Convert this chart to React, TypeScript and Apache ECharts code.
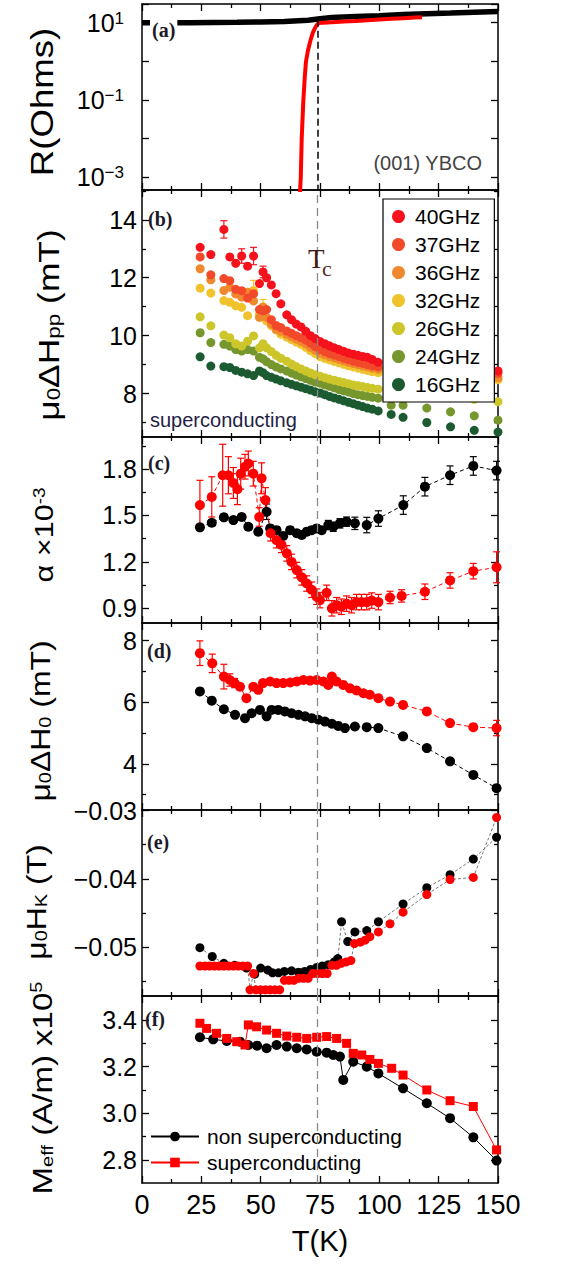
import React, { useEffect, useRef } from 'react';
import * as echarts from 'echarts';

const FONT = "'Liberation Sans', Arial, Helvetica, sans-serif";
const SERIF = "'Liberation Serif', 'Times New Roman', serif";

const W = 572;
const H = 1267;
const PLOT_LEFT = 142;
const PLOT_WIDTH = 356;
const PANELS = [
  { top: 4, height: 186 },
  { top: 190, height: 247 },
  { top: 437, height: 186 },
  { top: 623, height: 187 },
  { top: 810, height: 186 },
  { top: 996, height: 187 },
];

const TC = 74;
const T_MIN = 0;
const T_MAX = 150;
const T_TICKS_STEP = 25;

// ---------- (a) resistance ----------
const A_MIN = 4.6e-4;
const A_MAX = 30.5;
const T_A_N = [0, 10, 20, 30, 40, 50, 60, 70, 75, 80, 90, 100, 110, 120, 130, 140, 150];
const R_A_N = [10, 10, 10, 10.1, 10.2, 10.4, 10.8, 11.6, 12.6, 13.6, 14.4, 15.2, 16.2, 17.0, 17.8, 18.7, 19.6];
const T_A_SC = [66.5, 66.9, 67.3, 68.0, 68.6, 69.1, 70.0, 71.0, 72.0, 73.0, 73.8, 74.5, 76, 80, 85, 90, 95, 100, 105, 110, 115, 118];
const R_A_SC = [3e-4, 1e-3, 1e-2, 0.1, 0.4, 1.0, 2.0, 3.5, 5.5, 7.5, 9.0, 9.8, 10.0, 10.3, 10.7, 11.1, 11.6, 12.1, 12.6, 13.1, 13.6, 13.9];

// ---------- (b) linewidth vs frequency ----------
const FREQS = ['40GHz', '37GHz', '36GHz', '32GHz', '26GHz', '24GHz', '16GHz'];
const FREQ_COLORS = ['#f5121d', '#f2492b', '#f0882d', '#f0c22b', '#cdc62a', '#76962e', '#1c5a31'];
const T_B = [24.5, 29, 34.5, 37, 39.5, 42, 44.5, 47, 49.5, 51, 52.5, 54.5, 56.5, 58.5, 61, 63, 65, 67, 69, 71, 73, 75, 77, 79, 81, 83, 85, 87, 89, 91, 93, 95, 97, 99.5, 105, 110, 120, 130, 140, 150];
const B_40 = [13.05, 12.8, 13.67, 12.72, 12.5, 12.75, 12.4, 12.75, 11.8, 12.2,
  12.0, 11.75, 11.45, 11.1, 10.72, 10.55, 10.4, 10.3, 10.15, 10.0,
  9.9, 9.8, 9.72, 9.65, 9.58, 9.52, 9.46, 9.4, 9.36, 9.32,
  9.28, 9.25, 9.18, 9.08, 9.0, 8.95, 8.9, 8.85, 8.8, 8.78];
const B_37 = [12.72, 12.1, 11.97, 11.9, 11.6, 11.55, 11.3, 11.45, 10.9, 10.86,
  10.9, 10.55, 10.35, 10.28, 10.16, 10.08, 10.0, 9.93, 9.85, 9.74,
  9.62, 9.52, 9.45, 9.38, 9.33, 9.28, 9.22, 9.17, 9.12, 9.08,
  9.04, 9.0, 8.96, 8.92, 8.85, 8.8, 8.75, 8.72, 8.7, 8.7];
const B_36 = [12.31, 11.93, 11.56, 11.67, 11.44, 11.33, 11.5, 11.2, 10.63, 10.98,
  10.63, 10.4, 10.22, 10.15, 10.05, 9.96, 9.88, 9.8, 9.72, 9.6,
  9.5, 9.4, 9.34, 9.28, 9.23, 9.18, 9.13, 9.08, 9.04, 9.0,
  8.96, 8.92, 8.88, 8.84, 8.78, 8.72, 8.66, 8.62, 8.58, 8.55];
const B_32 = [11.64, 11.47, 11.21, 11.15, 11.03, 10.98, 10.69, 11.56, 10.74, 11.0,
  10.51, 10.35, 10.2, 10.05, 9.95, 9.86, 9.78, 9.7, 9.6, 9.48,
  9.38, 9.28, 9.22, 9.16, 9.11, 9.06, 9.01, 8.96, 8.92, 8.88,
  8.84, 8.8, 8.76, 8.72, 8.66, 8.62, 8.58, 8.55, 8.52, 8.48];
const B_26 = [10.65, 10.34, 10.02, 9.93, 9.72, 9.64, 9.81, 9.99, 9.58, 9.72,
  9.58, 9.45, 9.32, 9.22, 9.12, 9.02, 8.93, 8.85, 8.78, 8.71,
  8.65, 8.6, 8.55, 8.5, 8.46, 8.42, 8.38, 8.34, 8.3, 8.27,
  8.24, 8.21, 8.18, 8.15, 8.0, 7.95, 7.9, 7.85, 7.8, 7.72];
const B_24 = [10.1, 9.76, 9.7, 9.64, 9.52, 9.47, 9.52, 9.47, 9.25, 9.2,
  9.1, 9.0, 8.92, 8.85, 8.78, 8.71, 8.64, 8.58, 8.52, 8.46,
  8.4, 8.36, 8.3, 8.25, 8.2, 8.14, 8.09, 8.05, 8.0, 7.96,
  7.93, 7.9, 7.87, 7.84, 7.6, 7.6, 7.5, 7.37, 7.23, 7.08];
const B_16 = [9.27, 8.95, 8.93, 8.9, 8.8, 8.74, 8.68, 8.62, 8.78, 8.72,
  8.62, 8.56, 8.5, 8.44, 8.37, 8.32, 8.27, 8.22, 8.17, 8.12,
  8.06, 8.02, 7.96, 7.9, 7.85, 7.8, 7.75, 7.7, 7.65, 7.6,
  7.55, 7.5, 7.46, 7.4, 7.28, 7.18, 7.0, 6.85, 6.73, 6.67];
const B_ERR_40 = [0, 0, 0.3, 0, 0, 0.25, 0, 0.3, 0, 0.2, 0, 0, 0, 0, 0, 0, 0, 0, 0, 0,
  0, 0, 0, 0, 0, 0, 0, 0, 0, 0, 0, 0, 0, 0, 0, 0, 0, 0, 0, 0];
const B_ERR_32 = [0, 0, 0, 0, 0, 0, 0, 0.35, 0, 0.25, 0, 0, 0, 0, 0, 0, 0, 0, 0, 0,
  0, 0, 0, 0, 0, 0, 0, 0, 0, 0, 0, 0, 0, 0, 0, 0, 0, 0, 0, 0];

// ---------- (c) damping ----------
const T_C_SC = [24.4, 29.4, 34, 36.4, 38.5, 40.2, 41.6, 43.4, 44.8, 46.9, 49.4, 50.4, 52, 54.2, 56.7, 58.8, 61, 63, 65.2, 67.3,
  69.4, 71.5, 73.6, 75, 77.8, 80, 82, 84, 86.2, 88.3, 90.4, 92.5, 94.7, 96.8, 99.6, 104.5, 109.4, 119.2, 129.8, 139.6, 149.4];
const ALPHA_SC = [1.567, 1.62, 1.76, 1.76, 1.71, 1.67, 1.77, 1.815, 1.836, 1.77, 1.49, 1.74, 1.6, 1.385, 1.34, 1.31, 1.255, 1.2, 1.147, 1.1,
  1.06, 1.02, 0.975, 0.953, 1.0, 0.9, 0.92, 0.91, 0.93, 0.92, 0.94, 0.94, 0.94, 0.95, 0.94, 0.97, 0.98, 1.007, 1.08, 1.14, 1.165];
const ERR_C_SC = [0.16, 0.13, 0.2, 0.12, 0.1, 0.1, 0.1, 0.08, 0.08, 0.08, 0.06, 0.1, 0.08, 0.05, 0.05, 0.05, 0.05, 0.05, 0.05, 0.05,
  0.05, 0.05, 0.05, 0.05, 0.05, 0.05, 0.05, 0.05, 0.05, 0.05, 0.05, 0.05, 0.05, 0.05, 0.05, 0.04, 0.04, 0.05, 0.05, 0.05, 0.1];
const T_C_N = [24.4, 29.4, 34.5, 38.5, 42, 44.8, 49, 52.5, 54, 56.7, 59.5, 62.4, 65.2, 67.3, 69.4, 71.5, 73.6, 75.7, 78.5, 80.6,
  83.4, 86.2, 89.7, 94.7, 99.6, 110.1, 119.2, 129.8, 139.6, 149.4];
const ALPHA_N = [1.423, 1.453, 1.488, 1.47, 1.49, 1.427, 1.395, 1.524, 1.416, 1.405, 1.367, 1.405, 1.385, 1.374, 1.395, 1.405, 1.416, 1.405, 1.438, 1.427,
  1.449, 1.46, 1.449, 1.438, 1.48, 1.567, 1.686, 1.76, 1.82, 1.79];
const ERR_C_N = [0.02, 0.02, 0.02, 0.02, 0.02, 0.02, 0.02, 0.05, 0.02, 0.02, 0.02, 0.02, 0.02, 0.02, 0.02, 0.02, 0.02, 0.02, 0.03, 0.03,
  0.03, 0.03, 0.04, 0.05, 0.05, 0.06, 0.06, 0.06, 0.06, 0.06];

// ---------- (d) inhomogeneous broadening ----------
const T_D_SC = [24.4, 29.6, 34.5, 37, 39, 41.3, 44, 46.9, 49, 51, 54, 56.7, 59.5, 62.4, 65.2, 68, 70.8, 73.6, 76.4, 78.5,
  80, 82, 84.8, 87.6, 90.4, 93.3, 96, 99.6, 104.5, 110, 120, 129.8, 139.6, 149.4];
const DH0_SC = [7.59, 7.26, 6.83, 6.72, 6.62, 6.5, 6.13, 6.5, 6.4, 6.62, 6.67, 6.62, 6.62, 6.64, 6.67, 6.72, 6.7, 6.72, 6.67, 6.56,
  6.83, 6.67, 6.56, 6.45, 6.38, 6.29, 6.24, 6.13, 6.02, 5.91, 5.7, 5.32, 5.19, 5.16];
const ERR_D_SC = [0.4, 0.3, 0.4, 0.2, 0.15, 0.1, 0.1, 0.1, 0.1, 0.1, 0.08, 0.08, 0.08, 0.08, 0.08, 0.08, 0.08, 0.08, 0.08, 0.08,
  0.08, 0.08, 0.08, 0.08, 0.08, 0.08, 0.08, 0.08, 0.08, 0.08, 0.08, 0.08, 0.08, 0.25];
const T_D_N = [24.4, 29.4, 34.5, 39.2, 43.4, 46.2, 49.7, 52.5, 54.6, 57.4, 60.2, 63, 65.9, 68.7, 71.5, 74.3, 77.1, 80, 82.7, 85.5,
  89.7, 94.7, 99.6, 110, 120, 129.8, 139.6, 149.4];
const DH0_N = [6.35, 6.05, 5.77, 5.59, 5.48, 5.64, 5.75, 5.54, 5.75, 5.75, 5.7, 5.64, 5.59, 5.54, 5.48, 5.43, 5.37, 5.3, 5.23, 5.16,
  5.21, 5.19, 5.16, 4.89, 4.51, 4.08, 3.64, 3.21];

// ---------- (e) anisotropy field ----------
const T_E_N = [24.4, 29.6, 34.5, 39, 44, 47.5, 50, 53, 55, 57.5, 60, 63, 66, 68.5, 71, 73.6, 76, 78.5, 81, 82.5,
  84.1, 86.7, 89.7, 94.7, 99.6, 110, 120, 129.8, 139.6, 149.4];
const HK_N = [-0.0501, -0.0514, -0.0524, -0.0527, -0.0531, -0.054, -0.0531, -0.0534, -0.0538, -0.0538, -0.0536, -0.0535, -0.0537, -0.0536, -0.0533, -0.053, -0.0528, -0.0526, -0.0522, -0.0517,
  -0.0463, -0.0492, -0.0478, -0.0476, -0.0463, -0.0437, -0.0413, -0.0394, -0.0371, -0.0339];
const T_E_SC = [24.4, 26.5, 28.5, 30.5, 32.5, 34.5, 36.5, 38.5, 40.5, 42.5, 44.5, 45.5, 47, 48, 50, 52, 54, 56, 58, 60,
  62, 64, 66, 68, 70, 72, 74, 76, 78, 80, 82, 84, 86, 88, 89.5, 92, 94, 96, 99.6, 104.5, 110, 120, 129.8, 139.6, 149.4];
const HK_SC = [-0.0528, -0.0528, -0.0528, -0.0528, -0.0528, -0.0528, -0.0528, -0.0528, -0.0528, -0.0528,
  -0.0528, -0.0563, -0.0539, -0.0563, -0.0563, -0.0563, -0.0563, -0.0563, -0.0563, -0.0549,
  -0.0549, -0.0549, -0.0546, -0.0546, -0.0546, -0.0539, -0.0539, -0.0539, -0.0539, -0.0527,
  -0.0527, -0.0524, -0.0522, -0.052, -0.0495, -0.0493, -0.049, -0.0485, -0.0478, -0.0466,
  -0.0449, -0.0423, -0.0401, -0.0398, -0.031];

// ---------- (f) effective magnetization ----------
const T_F_N = [24.4, 30, 35.7, 41.3, 44.8, 48.5, 52.5, 56.7, 61, 65.2, 69.4, 73.6, 77.8, 80.6, 83.4, 84.8, 89, 94.7, 99.6, 110,
  120, 129.8, 139.6, 149.4];
const M_N = [3.326, 3.317, 3.31, 3.307, 3.293, 3.29, 3.279, 3.293, 3.286, 3.279, 3.274, 3.264, 3.26, 3.25, 3.243, 3.143, 3.221, 3.2, 3.171, 3.107,
  3.043, 2.979, 2.897, 2.797];
const T_F_SC = [24.4, 27.2, 31.4, 35.7, 39.9, 43.4, 44.8, 48.3, 52.5, 56.7, 61, 65.2, 69.4, 73.6, 77.8, 82, 86.2, 89, 92.6, 96,
  99.6, 105.2, 110, 120, 129.8, 139.6, 149.4];
const M_SC = [3.386, 3.364, 3.343, 3.321, 3.307, 3.293, 3.379, 3.371, 3.357, 3.343, 3.331, 3.326, 3.321, 3.326, 3.329, 3.321, 3.3, 3.257, 3.25, 3.231,
  3.214, 3.193, 3.164, 3.1, 3.054, 3.029, 2.843];

// ---------- axis configuration (panels b-f) ----------
const Y_CFG: any[] = [
  null,
  { min: 6.5, max: 15.03, major: [8, 10, 12, 14], minor: [7, 9, 11, 13, 15], dec: 0 },
  { min: 0.805, max: 2.007, major: [0.9, 1.2, 1.5, 1.8], minor: [1.05, 1.35, 1.65, 1.95], dec: 1 },
  { min: 2.5, max: 8.57, major: [4, 6, 8], minor: [3, 5, 7], dec: 0 },
  { min: -0.0572, max: -0.0299, major: [-0.05, -0.04, -0.03], minor: [-0.055, -0.045, -0.035], dec: 2 },
  { min: 2.701, max: 3.503, major: [2.8, 3.0, 3.2, 3.4], minor: [2.9, 3.1, 3.3], dec: 1 },
];

const LEGEND_F = ['non superconducting', 'superconducting'];

const zip = (xs: number[], ys: number[]) => xs.map((x, i) => [x, ys[i]]);
const errData = (xs: number[], ys: number[], es: number[]) =>
  xs.map((x, i) => [x, ys[i] - es[i], ys[i] + es[i]]).filter((_, i) => es[i] > 0);

const AXIS_LINE = { show: true, onZero: false, lineStyle: { color: '#000', width: 1.5 } };
const TICK_STYLE = { color: '#000', width: 1.3 };

function errorSeries(gi: number, data: number[][], color: string) {
  return {
    type: 'custom',
    xAxisIndex: 2 * gi,
    yAxisIndex: 4 * gi,
    silent: true,
    data,
    encode: { x: 0, y: [1, 2] },
    renderItem: (params: any, api: any) => {
      const x = api.value(0);
      const lo = api.coord([x, api.value(1)]);
      const hi = api.coord([x, api.value(2)]);
      const w = 3.5;
      const style = { stroke: color, lineWidth: 1.2 };
      return {
        type: 'group',
        children: [
          { type: 'line', shape: { x1: lo[0], y1: lo[1], x2: hi[0], y2: hi[1] }, style },
          { type: 'line', shape: { x1: hi[0] - w, y1: hi[1], x2: hi[0] + w, y2: hi[1] }, style },
          { type: 'line', shape: { x1: lo[0] - w, y1: lo[1], x2: lo[0] + w, y2: lo[1] }, style },
        ],
      };
    },
  };
}

const tcMark = {
  silent: true,
  symbol: ['none', 'none'],
  label: { show: false },
  lineStyle: { color: '#8a8a8a', width: 1.3, type: [8, 5] },
  data: [{ xAxis: TC }],
};

function buildOption() {
  const grids = PANELS.map((p) => ({
    left: PLOT_LEFT, width: PLOT_WIDTH, top: p.top, height: p.height,
    show: false, containLabel: false, outerBoundsMode: 'none',
  }));

  const xAxes: any[] = [];
  const yAxes: any[] = [];
  PANELS.forEach((_, gi) => {
    const baseX = {
      gridIndex: gi, type: 'value', min: T_MIN, max: T_MAX, interval: T_TICKS_STEP,
      splitLine: { show: false }, axisLine: AXIS_LINE,
      axisTick: { show: true, inside: true, length: 7, lineStyle: TICK_STYLE },
      minorTick: { show: true, splitNumber: 2, length: 4, lineStyle: TICK_STYLE },
      minorSplitLine: { show: false },
    };
    const last = gi === PANELS.length - 1;
    xAxes.push({
      ...baseX, position: 'bottom',
      axisLabel: { show: last, fontSize: 27, fontFamily: FONT, color: '#000', margin: 8 },
      name: last ? 'T(K)' : '', nameLocation: 'middle', nameGap: 43,
      nameTextStyle: { fontSize: 29, fontFamily: FONT, color: '#000' },
    });
    xAxes.push({ ...baseX, position: 'top', axisLabel: { show: false } });

    if (gi === 0) {
      const baseLog = {
        gridIndex: 0, type: 'log', logBase: 10, min: A_MIN, max: A_MAX,
        splitLine: { show: false }, axisLine: AXIS_LINE,
        axisTick: { show: true, inside: true, length: 7, lineStyle: TICK_STYLE },
      };
      yAxes.push({
        ...baseLog, position: 'left',
        axisLabel: {
          show: true, margin: 18,
          formatter: (v: number) => {
            const e = Math.log10(v);
            const n = Math.round(e);
            if (Math.abs(e - n) > 1e-6 || n % 2 === 0) return '';
            return `{b|10}{s|${n < 0 ? '−' : ''}${Math.abs(n)}}`;
          },
          rich: {
            b: { fontSize: 25, fontFamily: FONT, color: '#000' },
            s: { fontSize: 17, fontFamily: FONT, color: '#000', verticalAlign: 'top', lineHeight: 14 },
          },
        },
      });
      yAxes.push({ ...baseLog, position: 'left', axisLine: { show: false }, axisTick: { show: false }, axisLabel: { show: false } });
      yAxes.push({ ...baseLog, position: 'right', axisLabel: { show: false } });
      yAxes.push({ ...baseLog, position: 'right', axisLine: { show: false }, axisTick: { show: false }, axisLabel: { show: false } });
      return;
    }
    const c = Y_CFG[gi];
    const baseY = { gridIndex: gi, type: 'value', min: c.min, max: c.max, splitLine: { show: false } };
    const majorTick = { show: true, inside: true, length: 7, customValues: c.major, lineStyle: TICK_STYLE };
    const minorTickAx = { show: true, inside: true, length: 4, customValues: c.minor, lineStyle: TICK_STYLE };
    yAxes.push({
      ...baseY, position: 'left', axisLine: AXIS_LINE, axisTick: majorTick,
      axisLabel: {
        show: true, customValues: c.major, fontSize: 25, fontFamily: FONT, color: '#000', margin: 5,
        formatter: (v: number) => v.toFixed(c.dec).replace('-', '−'),
      },
    });
    yAxes.push({ ...baseY, position: 'left', axisLine: { show: false, onZero: false }, axisTick: minorTickAx, axisLabel: { show: false } });
    yAxes.push({ ...baseY, position: 'right', axisLine: AXIS_LINE, axisTick: majorTick, axisLabel: { show: false } });
    yAxes.push({ ...baseY, position: 'right', axisLine: { show: false, onZero: false }, axisTick: minorTickAx, axisLabel: { show: false } });
  });

  const series: any[] = [];
  const ax = (gi: number) => ({ xAxisIndex: 2 * gi, yAxisIndex: 4 * gi });

  // (a)
  series.push({
    type: 'line', name: 'R non', ...ax(0), data: zip(T_A_N, R_A_N), showSymbol: false,
    lineStyle: { color: '#000', width: 5.5 }, itemStyle: { color: '#000' },
    markLine: {
      silent: true, symbol: ['none', 'none'], label: { show: false },
      lineStyle: { color: '#000', width: 1.5, type: [7, 4] },
      data: [[{ coord: [TC, 12] }, { coord: [TC, A_MIN] }]],
    },
  });
  series.push({
    type: 'line', name: 'R sc', ...ax(0), data: zip(T_A_SC, R_A_SC), showSymbol: false,
    lineStyle: { color: '#ff0000', width: 4 }, itemStyle: { color: '#ff0000' },
  });

  // (b)
  const bVals = [B_40, B_37, B_36, B_32, B_26, B_24, B_16];
  series.push(errorSeries(1, errData(T_B, B_32, B_ERR_32), FREQ_COLORS[3]));
  for (let k = FREQS.length - 1; k >= 0; k--) {
    const s: any = {
      type: 'scatter', name: FREQS[k], ...ax(1), data: zip(T_B, bVals[k]),
      symbol: 'circle', symbolSize: 9, itemStyle: { color: FREQ_COLORS[k], opacity: 1 },
    };
    if (k === FREQS.length - 1) s.markLine = tcMark;
    series.push(s);
  }
  series.push(errorSeries(1, errData(T_B, B_40, B_ERR_40), FREQ_COLORS[0]));

  // (c)
  series.push(errorSeries(2, errData(T_C_N, ALPHA_N, ERR_C_N), '#000'));
  series.push({
    type: 'line', name: 'alpha non', ...ax(2), data: zip(T_C_N, ALPHA_N),
    symbol: 'circle', symbolSize: 10, lineStyle: { color: '#000', width: 1, type: [4, 3] },
    itemStyle: { color: '#000' }, markLine: tcMark,
  });
  series.push(errorSeries(2, errData(T_C_SC, ALPHA_SC, ERR_C_SC), '#ff0000'));
  series.push({
    type: 'line', name: 'alpha sc', ...ax(2), data: zip(T_C_SC, ALPHA_SC),
    symbol: 'circle', symbolSize: 10, lineStyle: { color: '#ff0000', width: 1, type: [4, 3] },
    itemStyle: { color: '#ff0000' },
  });

  // (d)
  series.push({
    type: 'line', name: 'dh0 non', ...ax(3), data: zip(T_D_N, DH0_N),
    symbol: 'circle', symbolSize: 10, lineStyle: { color: '#000', width: 1, type: [4, 3] },
    itemStyle: { color: '#000' }, markLine: tcMark,
  });
  series.push(errorSeries(3, errData(T_D_SC, DH0_SC, ERR_D_SC), '#ff0000'));
  series.push({
    type: 'line', name: 'dh0 sc', ...ax(3), data: zip(T_D_SC, DH0_SC),
    symbol: 'circle', symbolSize: 10, lineStyle: { color: '#ff0000', width: 1, type: [5, 3] },
    itemStyle: { color: '#ff0000' },
  });

  // (e)
  series.push({
    type: 'line', name: 'hk non', ...ax(4), data: zip(T_E_N, HK_N),
    symbol: 'circle', symbolSize: 9, lineStyle: { color: '#555', width: 0.8, type: [3, 2] },
    itemStyle: { color: '#000' }, markLine: tcMark,
  });
  series.push({
    type: 'line', name: 'hk sc', ...ax(4), data: zip(T_E_SC, HK_SC),
    symbol: 'circle', symbolSize: 9, lineStyle: { color: '#555', width: 0.8, type: [3, 2] },
    itemStyle: { color: '#ff0000' },
  });

  // (f)
  series.push({
    type: 'line', name: LEGEND_F[0], ...ax(5), data: zip(T_F_N, M_N),
    symbol: 'circle', symbolSize: 10, lineStyle: { color: '#000', width: 1 },
    itemStyle: { color: '#000' }, markLine: tcMark,
  });
  series.push({
    type: 'line', name: LEGEND_F[1], ...ax(5), data: zip(T_F_SC, M_SC),
    symbol: 'rect', symbolSize: 9, lineStyle: { color: '#ff0000', width: 1 },
    itemStyle: { color: '#ff0000' },
  });

  const panelLabel = (t: string, x: number, y: number, bg = false) => ({
    type: 'text', x, y, z: 50,
    style: {
      text: t, fontFamily: SERIF, fontWeight: 'bold', fontSize: 20, fill: '#1a1a2a',
      verticalAlign: 'middle', align: 'left',
      backgroundColor: bg ? '#fff' : undefined, padding: bg ? [0, 2] : 0,
    },
  });
  const richY = (fs: number) => ({
    s: { fontSize: Math.round(fs * 0.62), fontFamily: FONT, fill: '#000', verticalAlign: 'bottom', lineHeight: Math.round(fs * 0.45) },
    p: { fontSize: Math.round(fs * 0.62), fontFamily: FONT, fill: '#000', verticalAlign: 'top', lineHeight: Math.round(fs * 0.45) },
  });
  const yTitle = (t: string, x: number, y: number, fs: number, sx = 1.18) => ({
    type: 'text', x, y, rotation: Math.PI / 2, scaleX: sx, scaleY: 1, z: 50,
    style: {
      text: t, fontSize: fs, fontFamily: FONT, fill: '#000',
      align: 'center', verticalAlign: 'middle', rich: richY(fs),
    },
  });

  const graphic = [
    panelLabel('(a)', 150, 30, true),
    panelLabel('(b)', 148, 219),
    panelLabel('(c)', 148, 463),
    panelLabel('(d)', 147, 651),
    panelLabel('(e)', 147, 842),
    panelLabel('(f)', 145, 1019),
    yTitle('R(Ohms)', 42, 102, 31),
    yTitle('μ{s|0}ΔH{s|pp} (mT)', 48, 325, 30),
    yTitle('α ×10{p|-3}', 44, 535, 26),
    yTitle('μ{s|0}ΔH{s|0} (mT)', 40, 721, 27),
    yTitle('μ{s|0}H{s|K} (T)', 36, 902, 27),
    yTitle('M{s|eff} (A/m) x10{p|5}', 42, 1088, 28),
    {
      type: 'text', x: 482, y: 163, z: 50,
      style: { text: '(001) YBCO', fontSize: 20, fontFamily: FONT, fill: '#444', align: 'right', verticalAlign: 'middle' },
    },
    {
      type: 'text', x: 308, y: 259, z: 50,
      style: { text: 'T', fontSize: 27, fontFamily: SERIF, fill: '#3e1b1b', align: 'left', verticalAlign: 'middle' },
    },
    {
      type: 'text', x: 322, y: 268, z: 50,
      style: { text: 'c', fontSize: 22, fontFamily: SERIF, fill: '#5a2a2a', align: 'left', verticalAlign: 'middle' },
    },
    {
      type: 'text', x: 150, y: 420, z: 50,
      style: { text: 'superconducting', fontSize: 20, fontFamily: FONT, fill: '#1f1f45', align: 'left', verticalAlign: 'middle' },
    },
  ];

  return {
    animation: false,
    backgroundColor: '#fff',
    textStyle: { fontFamily: FONT },
    grid: grids,
    xAxis: xAxes,
    yAxis: yAxes,
    legend: [
      {
        data: FREQS, orient: 'vertical', left: 383, top: 199, selectedMode: false,
        padding: [7, 14, 7, 9], itemGap: 7, itemWidth: 13, itemHeight: 13,
        backgroundColor: '#fff', borderColor: '#000', borderWidth: 1.2, z: 20,
        textStyle: { fontSize: 21, fontFamily: FONT, color: '#000', padding: [0, 0, 0, 5] },
      },
      {
        data: LEGEND_F, orient: 'vertical', left: 150, top: 1126, selectedMode: false,
        padding: 0, itemGap: 5, itemWidth: 48, itemHeight: 12,
        textStyle: { fontSize: 21, fontFamily: FONT, color: '#000', padding: [0, 0, 0, 3] },
      },
    ],
    series,
    graphic,
  };
}

export default function App() {
  const ref = useRef<HTMLDivElement>(null);
  useEffect(() => {
    document.body.style.margin = '0';
    const chart = echarts.init(ref.current as HTMLDivElement, null, { renderer: 'svg' });
    chart.setOption(buildOption() as any);
    return () => {
      chart.dispose();
    };
  }, []);
  return <div ref={ref} style={{ width: W, height: H, background: '#fff' }} />;
}
